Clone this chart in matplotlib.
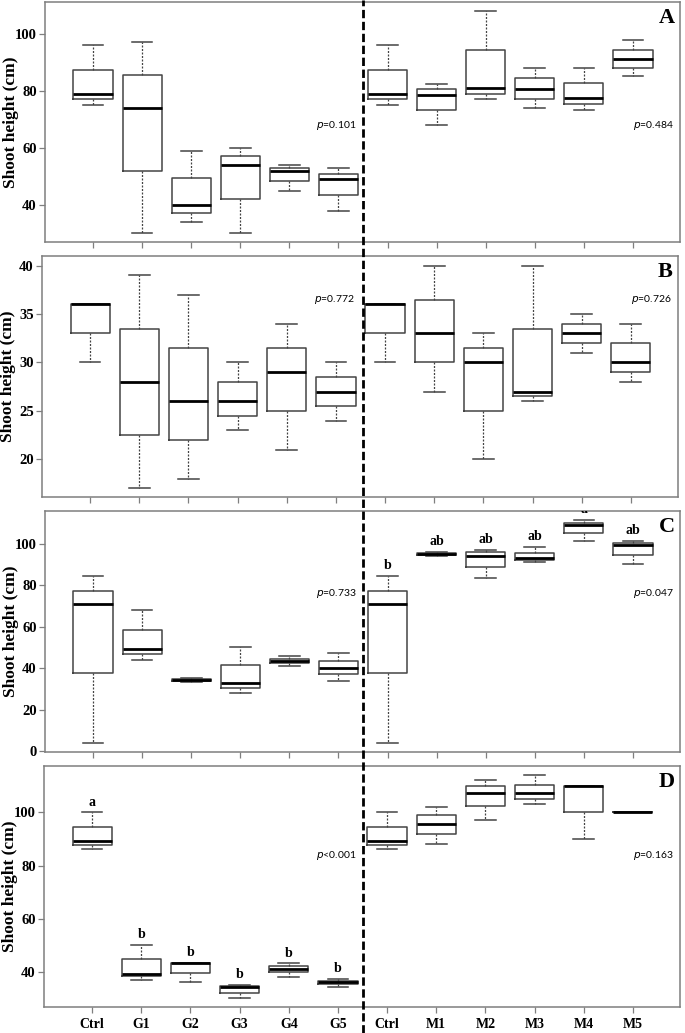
import matplotlib.pyplot as plt
from matplotlib.lines import Line2D

groups = ["Ctrl", "G1", "G2", "G3", "G4", "G5", "Ctrl", "M1", "M2", "M3", "M4", "M5"]

# --- box summaries (whisker low, q1, median, q3, whisker high) ---
# Panel A
a_lo = [75, 30, 34, 30, 45, 38, 75, 68, 77, 74, 73.2, 85.2]
a_q1 = [77, 52, 37, 42, 48.4, 43.5, 77, 73.4, 79, 77.2, 75.4, 88.1]
a_med = [79, 74, 40, 54, 52, 49, 79, 78.5, 81.1, 80.6, 77.6, 91.1]
a_q3 = [87.5, 85.5, 49.5, 57, 53, 51, 87.5, 80.6, 94.5, 84.4, 82.7, 94.5]
a_hi = [96, 97, 59, 60, 54, 53, 96, 82.6, 108, 88, 88, 98]

# Panel B
b_lo = [30, 17, 18, 23, 21, 24, 30, 27, 20, 26, 31, 28]
b_q1 = [33, 22.5, 22, 24.5, 25, 25.5, 33, 30, 25, 26.5, 32, 29]
b_med = [36, 28, 26, 26, 29, 27, 36, 33, 30, 27, 33, 30]
b_q3 = [36, 33.5, 31.5, 28, 31.5, 28.5, 36, 36.5, 31.5, 33.5, 34, 32]
b_hi = [36, 39, 37, 30, 34, 30, 36, 40, 33, 40, 35, 34]

# Panel C
c_lo = [4.2, 44.2, 33.5, 28, 41.1, 34.1, 4.2, 94.2, 83.4, 91.2, 101.3, 90.2]
c_q1 = [37.6, 46.7, 33.9, 30.7, 42.6, 37.1, 37.6, 94.6, 88.6, 92, 105.3, 94.7]
c_med = [71, 49.3, 34.3, 33.1, 43.5, 40, 71, 95.2, 94.2, 93.3, 109.1, 99.4]
c_q3 = [77.4, 58.6, 34.8, 41.6, 44.6, 43.7, 77.4, 95.7, 95.8, 95.7, 110.1, 100.3]
c_hi = [84.3, 68.2, 35.2, 50.1, 46, 47.2, 84.3, 96, 97.1, 98.2, 111.2, 101.1]
c_sig = ["", "", "", "", "", "", "b", "ab", "ab", "ab", "a", "ab"]

# Panel D
d_lo = [86.1, 37, 36, 30.1, 38.1, 34.1, 86.1, 88.2, 97.1, 103.1, 90, 100]
d_q1 = [87.6, 38.3, 39.5, 32, 39.8, 35.2, 87.6, 91.9, 102.3, 105, 100, 100]
d_med = [89.2, 39.2, 43.2, 34.1, 41, 36.2, 89.2, 95.7, 107.3, 107.3, 110, 100]
d_q3 = [94.6, 44.7, 43.2, 34.5, 42.1, 36.6, 94.6, 98.9, 109.8, 110.5, 110, 100]
d_hi = [100, 50.1, 43.2, 35.1, 43.1, 37.1, 100, 102.1, 112.2, 114, 110, 100]
d_sig = ["a", "b", "b", "b", "b", "b", "", "", "", "", "", ""]

p_left = ["p=0.101", "p=0.772", "p=0.733", "p<0.001"]
p_right = ["p=0.484", "p=0.726", "p=0.047", "p=0.163"]
p_y = [67.8, 36.5, 76, 83.7]
letters = ["A", "B", "C", "D"]

panels = [
    (a_lo, a_q1, a_med, a_q3, a_hi, None, (27, 111.2), [40, 60, 80, 100]),
    (b_lo, b_q1, b_med, b_q3, b_hi, None, (16.1, 41.0), [20, 25, 30, 35, 40]),
    (c_lo, c_q1, c_med, c_q3, c_hi, c_sig, (-0.3, 115.7), [0, 20, 40, 60, 80, 100]),
    (d_lo, d_q1, d_med, d_q3, d_hi, d_sig, (26.7, 117.5), [40, 60, 80, 100]),
]

# axes rectangles in pixels (left, top, right, bottom) on a 685x1033 canvas
W, H = 685, 1033
frames = [(45, 2, 680, 242), (42, 256, 678, 497), (45, 511, 680, 752), (44, 766, 680, 1007)]

serif = "Liberation Serif"
sans = "Lato"
frame_col = "#7f7f7f"
box_col = "#444444"

fig = plt.figure(figsize=(W / 100, H / 100), dpi=100)
positions = list(range(1, 13))
axes = []

for i, (lo, q1, med, q3, hi, sig, ylim, yticks) in enumerate(panels):
    l, t, r, b = frames[i]
    ax = fig.add_axes([l / W, 1 - b / H, (r - l) / W, (b - t) / H])
    axes.append(ax)

    stats = []
    for k in range(12):
        stats.append({"whislo": lo[k], "q1": q1[k], "med": med[k],
                      "q3": q3[k], "whishi": hi[k], "fliers": []})
    ax.bxp(stats, positions=positions, widths=0.8, capwidths=0.42,
           showfliers=False,
           boxprops=dict(color=box_col, linewidth=1.1),
           medianprops=dict(color="black", linewidth=2.0),
           whiskerprops=dict(color=box_col, linewidth=0.9, linestyle=(0, (1.6, 1.2))),
           capprops=dict(color=box_col, linewidth=1.1))

    ax.set_xlim(0.02, 12.96)
    ax.set_ylim(*ylim)
    ax.set_yticks(yticks)
    ax.set_xticks(positions)
    if i == 3:
        ax.set_xticklabels(groups, fontfamily=serif, fontweight="bold", fontsize=10)
    else:
        ax.set_xticklabels([])
    for lab in ax.get_yticklabels():
        lab.set_fontfamily(serif)
        lab.set_fontweight("bold")
        lab.set_fontsize(10.5)
    ax.tick_params(axis="both", direction="out", length=4, width=0.9,
                   color=frame_col, pad=2)
    ax.tick_params(axis="x", pad=4)
    for sp in ax.spines.values():
        sp.set_color(frame_col)
        sp.set_linewidth(1.1)

    ax.set_ylabel("Shoot height (cm)", fontfamily=serif, fontweight="bold",
                  fontsize=12.5, labelpad=2)
    ax.yaxis.set_label_coords(-0.041, 0.5)

    # p-values
    ax.text(5.55, p_y[i], p_left[i].replace("p", "$\\it{p}$", 1), fontfamily=sans,
            fontsize=7.5, va="center", ha="left")
    ax.text(12.0, p_y[i], p_right[i].replace("p", "$\\it{p}$", 1), fontfamily=sans,
            fontsize=7.5, va="center", ha="left")

    # panel letter
    ax.text(0.992, 0.975, letters[i], transform=ax.transAxes, fontfamily=serif,
            fontweight="bold", fontsize=16, ha="right", va="top")

    # significance letters
    if sig is not None:
        for k in range(12):
            if sig[k]:
                ax.annotate(sig[k], (positions[k], max(hi[k], q3[k])),
                            xytext=(0, 7.5), textcoords="offset points",
                            ha="center", va="center", fontfamily=serif,
                            fontweight="bold", fontsize=10, annotation_clip=False,
                            clip_on=True)

# dashed separator between G and M groups, spanning the whole figure
fig.canvas.draw()
xdisp = axes[0].transData.transform((6.5, 0))[0]
xfig = fig.transFigure.inverted().transform((xdisp, 0))[0]
fig.add_artist(Line2D([xfig, xfig], [0, 1], transform=fig.transFigure,
                      color="black", linewidth=2.0, linestyle=(0, (3.0, 1.3))))

fig.savefig("out.png", dpi=100)
